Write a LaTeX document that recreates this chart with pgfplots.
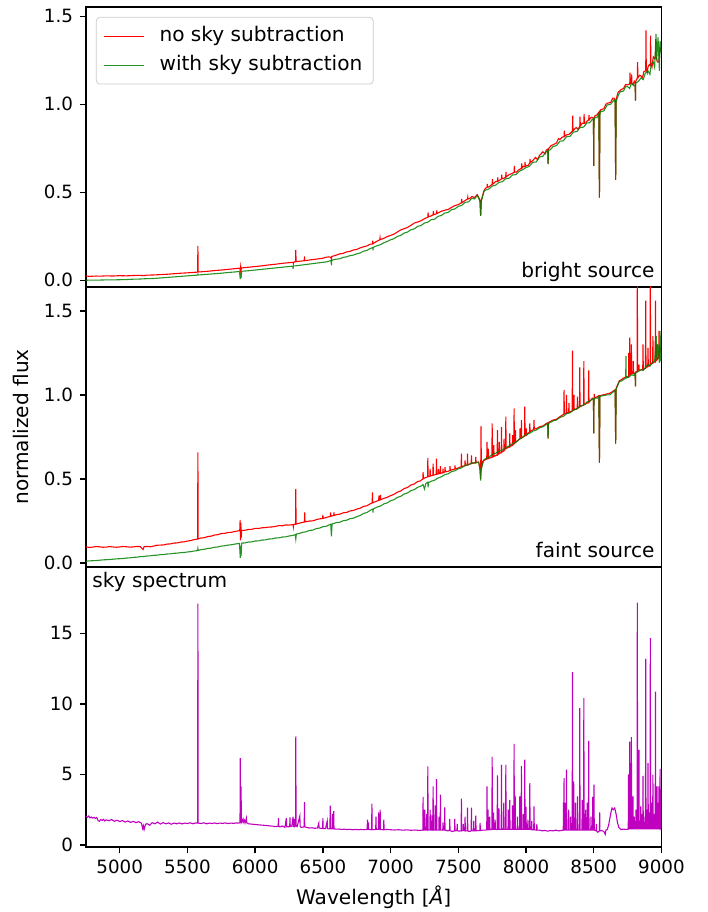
\documentclass[border=0pt]{standalone}
\usepackage{fontspec}
\setmainfont{DejaVu Sans}
\usepackage{pgfplots}
\pgfplotsset{compat=1.18}
\usepgfplotslibrary{groupplots}
\definecolor{mplred}{rgb}{1,0,0}
\definecolor{mplgreen}{rgb}{0,0.5,0}
\definecolor{mplmag}{rgb}{0.75,0,0.75}
\begin{document}
\begin{tikzpicture}
\begin{groupplot}[
  group style={group size=1 by 3, vertical sep=0pt},
  width=314.9pt, height=153.2pt, scale only axis,
  xmin=4750, xmax=9000,
  axis line style={line width=0.8pt},
  tick align=outside, major tick length=3.5pt,
  tick style={line width=0.8pt, black},
  ytick pos=left, xtick pos=bottom,
  scaled ticks=false,
  /pgf/number format/assume math mode=true,
  /pgf/number format/1000 sep={},
  tick label style={font=\fontsize{10}{12}\selectfont},
  label style={font=\fontsize{11}{13}\selectfont},
  every axis plot/.append style={line width=0.6pt, no marks},
  legend image code/.code={\draw[#1] (0pt,0pt) -- (22pt,0pt); \path (28pt,0pt);},
]
\nextgroupplot[
  ymin=-0.038, ymax=1.553, ytick={0,0.5,1,1.5}, xtick=\empty,
  yticklabel style={/pgf/number format/.cd, fixed, fixed zerofill, precision=1},
  legend cell align=left,
  legend style={at={(0,1)}, anchor=north west, xshift=5.5pt, yshift=-5.5pt,
    draw=black!20, fill=white, fill opacity=0.8, text opacity=1, rounded corners=2pt,
    font=\fontsize{11}{13}\selectfont, inner xsep=4pt, inner ysep=3.5pt,
    nodes={inner sep=2pt, text height=7.5pt, text depth=2pt}, row sep=2.5pt},
]
\addplot[draw=mplred] coordinates {(4750,.024) (4775,.022) (4800,.023) (4825,.024) (4850,.023) (4900,.025) (4950,.024) (5000,.026) (5050,.025) (5100,.027) (5150,.028) (5175,.026) (5200,.029) (5250,.030) (5300,.032) (5350,.034) (5400,.037) (5450,.040) (5500,.042) (5550,.045) (5575,.046) (5577,.195) (5579,.047) (5600,.048) (5650,.051) (5700,.055) (5750,.058) (5800,.062) (5850,.066) (5886,.069) (5890,.055) (5893,.078) (5896,.060) (5900,.070) (5950,.074) (6000,.078) (6050,.082) (6100,.087) (6150,.091) (6200,.096) (6250,.100) (6280,.102) (6282,.095) (6284,.103) (6298,.105) (6300,.172) (6302,.106) (6350,.110) (6362,.111) (6364,.135) (6366,.111) (6400,.115) (6450,.120) (6500,.125) (6525,.131) (6550,.133) (6560,.128) (6563,.120) (6566,.135) (6600,.143) (6625,.150) (6650,.153) (6675,.161) (6700,.164) (6725,.172) (6750,.175) (6775,.184) (6800,.190) (6825,.195) (6850,.205) (6866,.206) (6868,.225) (6870,.208) (6900,.222) (6920,.230) (6922,.242) (6924,.231) (6950,.238) (6975,.248) (7000,.255) (7025,.262) (7050,.274) (7075,.286) (7100,.293) (7125,.300) (7150,.312) (7175,.325) (7200,.331) (7225,.338) (7250,.350) (7275,.358) (7277,.385) (7279,.360) (7300,.366) (7314,.372) (7316,.392) (7318,.372) (7339,.378) (7341,.397) (7343,.379) (7350,.382) (7375,.392) (7400,.398) (7425,.402) (7450,.414) (7475,.424) (7500,.430) (7523,.440) (7525,.462) (7527,.441) (7550,.453) (7568,.462) (7570,.472) (7572,.462) (7587,.466) (7600,.476) (7620,.470) (7640,.486) (7660,.455) (7665,.366) (7670,.455) (7690,.510) (7700,.522) (7712,.528) (7714,.548) (7716,.529) (7725,.530) (7750,.545) (7752,.575) (7754,.546) (7775,.560) (7789,.562) (7791,.585) (7793,.563) (7800,.566) (7819,.576) (7821,.600) (7823,.577) (7835,.578) (7850,.587) (7852,.615) (7854,.588) (7875,.600) (7900,.608) (7912,.613) (7914,.650) (7916,.614) (7930,.615) (7950,.629) (7966,.636) (7968,.664) (7970,.637) (7980,.648) (7991,.645) (7993,.672) (7995,.646) (8000,.650) (8015,.652) (8028,.667) (8030,.690) (8032,.668) (8050,.680) (8070,.698) (8085,.685) (8100,.710) (8125,.730) (8140,.718) (8150,.740) (8160,.745) (8163,.660) (8166,.747) (8185,.765) (8200,.770) (8225,.780) (8240,.805) (8250,.800) (8265,.812) (8281,.816) (8283,.850) (8285,.817) (8300,.826) (8320,.830) (8343,.848) (8345,.935) (8347,.849) (8370,.868) (8385,.858) (8397,.876) (8399,.930) (8401,.877) (8415,.892) (8427,.891) (8429,.945) (8431,.892) (8440,.893) (8450,.904) (8463,.911) (8465,.940) (8467,.912) (8480,.925) (8490,.925) (8498,.920) (8500,.650) (8502,.920) (8510,.935) (8525,.940) (8538,.955) (8542,.470) (8546,.955) (8550,.968) (8575,.975) (8590,1.000) (8600,1.006) (8625,1.010) (8640,1.035) (8650,1.035) (8658,1.020) (8662,.570) (8666,1.030) (8680,1.068) (8690,1.075) (8700,1.082) (8720,1.090) (8735,1.112) (8750,1.110) (8766,1.115) (8768,1.180) (8770,1.116) (8778,1.120) (8780,1.170) (8782,1.121) (8790,1.112) (8800,1.130) (8806,1.120) (8808,1.020) (8810,1.130) (8822,1.150) (8824,1.240) (8826,1.150) (8840,1.165) (8850,1.160) (8860,1.150) (8870,1.185) (8884,1.190) (8886,1.420) (8888,1.200) (8895,1.180) (8900,1.210) (8910,1.225) (8918,1.220) (8920,1.390) (8922,1.230) (8930,1.210) (8940,1.270) (8950,1.260) (8956,1.270) (8958,1.370) (8960,1.270) (8970,1.240) (8980,1.240) (8990,1.320) (9000,1.300)};
\addlegendentry{no sky subtraction}
\addplot[draw=mplgreen, draw opacity=0.85] coordinates {(4750,.000) (4800,.001) (4850,.001) (4900,.002) (4950,.002) (5000,.003) (5050,.004) (5100,.006) (5150,.007) (5200,.009) (5250,.010) (5300,.013) (5350,.016) (5400,.019) (5450,.022) (5500,.025) (5550,.028) (5575,.029) (5577,.034) (5579,.030) (5600,.031) (5650,.034) (5700,.037) (5750,.040) (5800,.044) (5850,.047) (5884,.050) (5890,.006) (5893,.040) (5896,.012) (5900,.051) (5950,.054) (6000,.058) (6050,.062) (6100,.066) (6150,.070) (6200,.074) (6250,.078) (6278,.080) (6280,.065) (6282,.081) (6300,.082) (6350,.087) (6400,.092) (6450,.097) (6500,.102) (6525,.104) (6550,.110) (6560,.112) (6563,.085) (6566,.114) (6600,.120) (6625,.122) (6650,.130) (6675,.133) (6700,.140) (6725,.143) (6750,.150) (6775,.155) (6800,.165) (6825,.170) (6850,.180) (6868,.186) (6870,.170) (6872,.187) (6900,.196) (6925,.202) (6950,.213) (6975,.220) (7000,.230) (7025,.236) (7050,.249) (7075,.255) (7100,.268) (7125,.274) (7150,.287) (7175,.292) (7200,.306) (7225,.311) (7250,.325) (7275,.330) (7300,.344) (7325,.347) (7350,.363) (7375,.368) (7400,.382) (7425,.385) (7450,.401) (7475,.405) (7500,.420) (7525,.425) (7550,.443) (7575,.445) (7600,.466) (7620,.462) (7640,.482) (7660,.450) (7665,.366) (7670,.450) (7690,.505) (7700,.512) (7725,.518) (7750,.535) (7775,.540) (7800,.556) (7825,.560) (7850,.577) (7875,.580) (7900,.598) (7925,.600) (7950,.619) (7975,.628) (8000,.640) (8025,.648) (8050,.670) (8075,.672) (8100,.700) (8125,.705) (8150,.730) (8160,.736) (8163,.660) (8166,.738) (8180,.742) (8200,.760) (8225,.765) (8250,.790) (8275,.792) (8300,.816) (8325,.818) (8350,.842) (8375,.845) (8400,.868) (8425,.870) (8450,.894) (8470,.895) (8490,.915) (8498,.910) (8500,.650) (8502,.910) (8510,.925) (8525,.925) (8538,.945) (8542,.470) (8546,.945) (8550,.958) (8575,.962) (8600,.996) (8625,1.000) (8650,1.025) (8658,1.010) (8662,.570) (8666,1.020) (8690,1.065) (8700,1.072) (8720,1.075) (8735,1.100) (8750,1.100) (8765,1.090) (8780,1.120) (8795,1.105) (8806,1.110) (8808,1.020) (8810,1.120) (8830,1.130) (8850,1.150) (8865,1.140) (8880,1.175) (8900,1.190) (8915,1.170) (8925,1.230) (8940,1.240) (8950,1.210) (8960,1.400) (8965,1.250) (8975,1.380) (8985,1.190) (8990,1.360) (9000,1.290)};
\addlegendentry{with sky subtraction}
\node[anchor=base east, inner sep=0pt, font=\fontsize{11}{13}\selectfont] at (rel axis cs:1,0) [xshift=-3.6pt, yshift=5pt] {bright source};

\nextgroupplot[
  ymin=-0.024, ymax=1.642, ytick={0,0.5,1,1.5}, xtick=\empty,
  yticklabel style={/pgf/number format/.cd, fixed, fixed zerofill, precision=1},
  ylabel={normalized flux},
  ylabel style={at={(rel axis cs:0,0.5)}, anchor=center, yshift=35.5pt},
]
\addplot[draw=mplred] coordinates {(4750,.095) (4775,.092) (4800,.094) (4825,.097) (4850,.096) (4875,.093) (4900,.094) (4925,.097) (4950,.095) (4975,.093) (5000,.095) (5025,.098) (5050,.096) (5075,.094) (5100,.095) (5125,.098) (5150,.097) (5173,.080) (5180,.097) (5200,.098) (5225,.096) (5250,.100) (5275,.105) (5300,.106) (5325,.107) (5350,.112) (5375,.113) (5400,.118) (5425,.119) (5450,.124) (5475,.125) (5500,.130) (5525,.133) (5550,.139) (5575,.142) (5577,.657) (5579,.143) (5600,.148) (5625,.150) (5650,.157) (5675,.159) (5700,.166) (5725,.168) (5750,.175) (5775,.176) (5800,.181) (5825,.182) (5850,.187) (5886,.192) (5889,.256) (5891,.134) (5894,.240) (5897,.150) (5900,.193) (5925,.194) (5950,.199) (5975,.200) (6000,.205) (6025,.205) (6050,.209) (6075,.210) (6100,.213) (6125,.214) (6150,.217) (6175,.222) (6200,.221) (6225,.226) (6250,.225) (6280,.228) (6282,.215) (6284,.229) (6298,.230) (6300,.440) (6302,.231) (6325,.236) (6350,.241) (6364,.243) (6366,.300) (6368,.244) (6400,.249) (6425,.250) (6450,.257) (6475,.262) (6498,.264) (6500,.285) (6502,.265) (6525,.270) (6550,.276) (6555,.277) (6557,.300) (6559,.278) (6580,.282) (6582,.300) (6584,.283) (6600,.287) (6625,.290) (6650,.298) (6675,.300) (6700,.309) (6725,.312) (6750,.320) (6775,.325) (6800,.336) (6825,.340) (6850,.352) (6864,.357) (6866,.420) (6868,.358) (6900,.368) (6912,.372) (6914,.400) (6916,.373) (6923,.375) (6925,.405) (6927,.376) (6950,.384) (6975,.390) (7000,.400) (7025,.408) (7050,.421) (7075,.428) (7100,.442) (7125,.449) (7150,.463) (7175,.470) (7200,.484) (7220,.488) (7238,.500) (7240,.540) (7242,.501) (7250,.505) (7273,.512) (7275,.625) (7277,.513) (7290,.516) (7292,.560) (7294,.517) (7312,.521) (7314,.590) (7316,.522) (7337,.526) (7339,.620) (7341,.527) (7352,.530) (7354,.560) (7356,.530) (7366,.532) (7368,.575) (7370,.533) (7385,.536) (7387,.560) (7389,.537) (7400,.541) (7402,.570) (7404,.542) (7425,.545) (7437,.550) (7439,.575) (7441,.550) (7450,.553) (7474,.558) (7476,.580) (7478,.559) (7500,.565) (7521,.572) (7523,.650) (7525,.573) (7548,.578) (7550,.610) (7552,.579) (7566,.582) (7568,.650) (7570,.583) (7595,.590) (7597,.640) (7599,.591) (7627,.598) (7629,.630) (7631,.599) (7650,.600) (7660,.560) (7665,.500) (7668,.815) (7670,.560) (7680,.605) (7695,.612) (7710,.618) (7712,.720) (7714,.619) (7720,.620) (7722,.680) (7724,.621) (7735,.625) (7748,.628) (7750,.830) (7752,.630) (7760,.632) (7762,.700) (7764,.634) (7787,.642) (7789,.790) (7791,.643) (7800,.650) (7802,.720) (7804,.651) (7817,.657) (7819,.810) (7821,.658) (7836,.668) (7838,.740) (7840,.670) (7849,.680) (7851,.870) (7853,.681) (7878,.690) (7880,.770) (7882,.691) (7900,.702) (7902,.760) (7904,.703) (7910,.710) (7912,.920) (7914,.711) (7920,.716) (7922,.790) (7924,.717) (7935,.725) (7950,.735) (7954,.738) (7956,.800) (7958,.739) (7964,.742) (7966,.850) (7968,.743) (7989,.755) (7991,.930) (7993,.756) (8000,.760) (8002,.800) (8004,.761) (8026,.780) (8028,.830) (8030,.781) (8057,.795) (8059,.850) (8061,.796) (8080,.800) (8100,.810) (8125,.815) (8150,.830) (8160,.833) (8163,.740) (8166,.836) (8200,.850) (8225,.855) (8250,.870) (8279,.885) (8281,1.030) (8283,.886) (8297,.890) (8299,1.000) (8301,.891) (8315,.895) (8317,.950) (8319,.896) (8341,.905) (8343,1.263) (8345,.906) (8352,.910) (8354,1.000) (8356,.911) (8378,.920) (8380,.990) (8382,.921) (8395,.928) (8397,1.164) (8399,.929) (8425,.940) (8427,1.200) (8429,.941) (8461,.955) (8463,1.145) (8465,.956) (8490,.980) (8498,.975) (8500,.770) (8502,.975) (8504,1.006) (8506,.980) (8538,.995) (8542,.596) (8546,.995) (8570,1.000) (8600,1.006) (8620,1.010) (8640,1.020) (8658,1.030) (8662,.710) (8666,1.040) (8690,1.085) (8705,1.090) (8720,1.100) (8740,1.105) (8757,1.110) (8759,1.250) (8761,1.115) (8764,1.120) (8766,1.340) (8768,1.120) (8776,1.125) (8778,1.300) (8780,1.126) (8790,1.128) (8792,1.200) (8794,1.128) (8806,1.130) (8808,1.050) (8810,1.135) (8820,1.140) (8822,1.700) (8824,1.140) (8832,1.145) (8834,1.180) (8836,1.146) (8850,1.148) (8862,1.150) (8864,1.300) (8866,1.150) (8882,1.160) (8884,1.560) (8886,1.160) (8899,1.170) (8901,1.280) (8903,1.170) (8916,1.180) (8918,1.700) (8920,1.180) (8935,1.190) (8937,1.350) (8939,1.190) (8954,1.200) (8956,1.560) (8958,1.200) (8965,1.210) (8967,1.300) (8969,1.210) (8980,1.220) (8982,1.380) (8984,1.220) (8990,1.280) (9000,1.250)};
\addplot[draw=mplgreen, draw opacity=0.85] coordinates {(4750,.010) (4775,.012) (4800,.013) (4825,.014) (4850,.016) (4875,.018) (4900,.019) (4925,.020) (4950,.022) (4975,.024) (5000,.025) (5025,.026) (5050,.029) (5075,.030) (5100,.033) (5125,.034) (5150,.037) (5175,.038) (5200,.041) (5225,.042) (5250,.045) (5275,.046) (5300,.049) (5325,.050) (5350,.053) (5375,.054) (5400,.057) (5425,.058) (5450,.061) (5475,.062) (5500,.065) (5525,.067) (5550,.071) (5575,.073) (5577,.085) (5579,.074) (5600,.079) (5625,.081) (5650,.086) (5675,.088) (5700,.093) (5725,.095) (5750,.100) (5775,.102) (5800,.106) (5825,.108) (5850,.112) (5884,.116) (5890,.030) (5893,.100) (5896,.040) (5900,.118) (5925,.119) (5950,.124) (5975,.125) (6000,.130) (6025,.131) (6050,.136) (6075,.137) (6100,.142) (6125,.143) (6150,.148) (6175,.149) (6200,.154) (6225,.155) (6250,.160) (6275,.163) (6296,.168) (6300,.142) (6304,.172) (6325,.175) (6350,.182) (6375,.185) (6400,.193) (6425,.195) (6450,.204) (6475,.207) (6500,.215) (6525,.218) (6550,.228) (6558,.230) (6563,.158) (6568,.232) (6575,.233) (6600,.240) (6625,.242) (6650,.251) (6675,.254) (6700,.263) (6725,.266) (6750,.275) (6775,.282) (6800,.294) (6825,.300) (6850,.313) (6868,.320) (6870,.300) (6872,.321) (6900,.332) (6925,.338) (6950,.351) (6975,.357) (7000,.370) (7025,.376) (7050,.390) (7075,.396) (7100,.410) (7125,.416) (7150,.430) (7175,.436) (7200,.450) (7220,.455) (7240,.466) (7250,.440) (7260,.472) (7275,.480) (7277,.450) (7280,.478) (7300,.486) (7325,.492) (7350,.505) (7375,.512) (7400,.525) (7425,.530) (7450,.543) (7475,.548) (7500,.560) (7525,.566) (7550,.580) (7575,.584) (7600,.596) (7625,.593) (7650,.600) (7660,.560) (7665,.490) (7670,.560) (7690,.615) (7700,.620) (7725,.628) (7750,.645) (7775,.652) (7800,.665) (7825,.672) (7850,.687) (7875,.695) (7900,.710) (7925,.718) (7950,.736) (7975,.748) (8000,.765) (8025,.770) (8050,.784) (8075,.790) (8100,.804) (8125,.810) (8150,.824) (8160,.828) (8163,.740) (8166,.830) (8180,.836) (8200,.845) (8225,.850) (8250,.865) (8275,.872) (8300,.888) (8325,.893) (8350,.910) (8375,.915) (8400,.933) (8425,.938) (8450,.957) (8470,.962) (8490,.975) (8498,.970) (8500,.770) (8502,.970) (8510,.982) (8525,.980) (8538,.990) (8542,.596) (8546,.992) (8570,.995) (8600,1.000) (8620,1.000) (8640,1.015) (8658,1.025) (8662,.710) (8666,1.035) (8690,1.080) (8705,1.082) (8720,1.090) (8736,1.100) (8738,1.230) (8740,1.100) (8760,1.105) (8780,1.120) (8795,1.115) (8806,1.130) (8808,1.050) (8810,1.130) (8830,1.140) (8850,1.150) (8865,1.145) (8880,1.160) (8900,1.180) (8915,1.170) (8930,1.190) (8950,1.200) (8962,1.350) (8966,1.210) (8975,1.300) (8985,1.190) (8990,1.380) (8995,1.220) (9000,1.240)};
\node[anchor=base east, inner sep=0pt, font=\fontsize{11}{13}\selectfont] at (rel axis cs:1,0) [xshift=-3.6pt, yshift=5pt] {faint source};

\nextgroupplot[
  ymin=-0.14, ymax=19.7, ytick={0,5,10,15},
  xtick={5000,5500,...,9000},
  xlabel={Wavelength [{\itshape Å}]},
  xlabel style={at={(rel axis cs:0.5,0)}, anchor=base, yshift=-31.7pt},
]
\addplot[draw=mplmag] coordinates {(4750,2.02) (4760,1.95) (4770,2.05) (4780,1.92) (4790,1.98) (4800,1.90) (4810,1.96) (4820,1.88) (4830,1.95) (4840,1.72) (4850,1.68) (4860,1.80) (4870,1.74) (4880,1.82) (4890,1.70) (4900,1.78) (4920,1.72) (4940,1.80) (4960,1.68) (4980,1.75) (5000,1.66) (5020,1.73) (5040,1.62) (5060,1.70) (5080,1.60) (5100,1.67) (5120,1.58) (5140,1.65) (5160,1.55) (5170,1.15) (5175,1.35) (5180,1.10) (5190,1.45) (5200,1.52) (5220,1.40) (5240,1.58) (5260,1.50) (5280,1.62) (5300,1.48) (5320,1.58) (5340,1.50) (5360,1.56) (5380,1.47) (5400,1.55) (5420,1.50) (5440,1.56) (5460,1.49) (5480,1.55) (5500,1.52) (5520,1.57) (5540,1.50) (5560,1.56) (5575,1.55) (5577,17.10) (5579,1.55) (5600,1.52) (5620,1.57) (5640,1.50) (5660,1.55) (5680,1.52) (5700,1.56) (5720,1.51) (5740,1.55) (5760,1.53) (5780,1.56) (5800,1.52) (5820,1.55) (5840,1.53) (5860,1.56) (5880,1.55) (5888,1.58) (5890,6.15) (5892,1.70) (5896,4.15) (5898,1.60) (5910,1.85) (5912,1.60) (5920,1.75) (5925,1.55) (5935,1.90) (5937,1.58) (5950,1.50) (5970,1.48) (6000,1.45) (6030,1.42) (6060,1.40) (6100,1.36) (6130,1.33) (6150,1.30) (6170,1.32) (6172,1.90) (6174,1.30) (6190,1.28) (6200,1.35) (6220,1.25) (6230,1.90) (6232,1.28) (6255,1.30) (6257,1.95) (6259,1.30) (6270,1.32) (6280,2.00) (6282,1.30) (6287,1.30) (6289,1.85) (6291,1.30) (6298,1.35) (6300,7.69) (6302,1.35) (6310,1.30) (6330,2.05) (6332,1.30) (6340,1.25) (6362,1.28) (6364,3.04) (6366,1.28) (6380,1.25) (6400,1.20) (6420,1.22) (6440,1.18) (6460,1.20) (6470,1.55) (6472,1.20) (6498,1.17) (6500,1.90) (6502,1.17) (6520,1.16) (6532,1.70) (6534,1.16) (6540,1.14) (6552,1.15) (6554,2.78) (6556,1.15) (6568,1.15) (6570,2.20) (6572,1.14) (6578,1.14) (6580,2.40) (6582,1.14) (6600,1.12) (6620,1.13) (6640,1.10) (6660,1.12) (6680,1.09) (6700,1.11) (6720,1.08) (6740,1.10) (6760,1.08) (6780,1.10) (6800,1.08) (6827,1.10) (6829,1.80) (6831,1.10) (6834,1.10) (6836,1.60) (6838,1.10) (6860,1.08) (6862,2.92) (6864,1.10) (6870,1.08) (6890,1.10) (6892,2.00) (6894,1.10) (6910,1.10) (6912,2.30) (6914,1.10) (6921,1.10) (6923,2.50) (6925,1.10) (6940,1.08) (6948,1.08) (6950,1.80) (6952,1.08) (6970,1.10) (7000,1.08) (7030,1.06) (7060,1.08) (7090,1.05) (7120,1.07) (7150,1.04) (7180,1.06) (7210,1.03) (7230,1.05) (7238,1.05) (7240,3.40) (7242,1.05) (7250,1.08) (7252,2.50) (7254,1.05) (7264,1.05) (7266,2.20) (7268,1.05) (7273,1.05) (7275,5.56) (7277,1.05) (7290,1.08) (7292,2.50) (7294,1.05) (7303,1.05) (7305,2.10) (7307,1.05) (7312,1.05) (7314,4.15) (7316,1.05) (7327,1.08) (7329,2.80) (7331,1.05) (7337,1.05) (7339,4.67) (7341,1.05) (7356,1.05) (7358,2.00) (7360,1.05) (7366,1.05) (7368,3.56) (7370,1.05) (7385,1.05) (7387,1.60) (7389,1.05) (7398,1.05) (7400,2.66) (7402,1.05) (7420,1.00) (7435,1.02) (7437,1.84) (7439,1.02) (7455,0.95) (7472,1.00) (7474,1.84) (7476,1.00) (7490,1.02) (7492,1.50) (7494,1.02) (7500,0.98) (7521,1.00) (7523,3.28) (7525,1.00) (7535,1.02) (7537,1.50) (7539,1.02) (7548,1.00) (7550,2.00) (7552,1.00) (7566,1.00) (7568,2.64) (7570,1.00) (7580,0.95) (7595,1.00) (7597,2.64) (7599,1.00) (7612,1.00) (7614,1.70) (7616,1.00) (7627,1.00) (7629,2.07) (7631,1.00) (7645,1.02) (7659,1.02) (7661,1.56) (7663,1.02) (7680,1.05) (7700,1.05) (7710,1.08) (7712,4.15) (7714,1.08) (7718,1.08) (7720,2.50) (7722,1.08) (7730,1.10) (7732,2.00) (7734,1.08) (7748,1.10) (7750,6.25) (7752,1.10) (7758,1.10) (7760,2.30) (7762,1.10) (7770,1.10) (7772,1.80) (7774,1.10) (7787,1.10) (7789,4.93) (7791,1.10) (7798,1.12) (7800,2.60) (7802,1.10) (7817,1.10) (7819,5.68) (7821,1.10) (7834,1.12) (7836,3.00) (7838,1.10) (7849,1.10) (7851,5.68) (7853,1.10) (7867,1.10) (7869,2.50) (7871,1.10) (7878,1.12) (7880,3.20) (7882,1.10) (7898,1.10) (7900,2.80) (7902,1.10) (7910,1.10) (7912,7.17) (7914,1.10) (7918,1.12) (7920,3.50) (7922,1.10) (7935,1.10) (7937,2.00) (7939,1.10) (7952,1.10) (7954,3.44) (7956,1.10) (7964,1.10) (7966,5.61) (7968,1.10) (7978,1.10) (7980,2.20) (7982,1.10) (7989,1.10) (7991,6.04) (7993,1.10) (7998,1.10) (8000,2.70) (8002,1.10) (8012,1.10) (8014,1.80) (8016,1.10) (8026,1.10) (8028,4.39) (8030,1.10) (8040,1.08) (8042,1.70) (8044,1.08) (8057,1.08) (8059,2.73) (8061,1.08) (8078,1.05) (8080,1.50) (8082,1.05) (8100,1.05) (8120,1.00) (8140,1.03) (8160,0.98) (8180,1.02) (8200,1.00) (8220,1.05) (8240,1.00) (8260,1.02) (8275,1.05) (8277,3.00) (8279,1.05) (8281,4.74) (8283,1.05) (8288,1.05) (8290,3.00) (8292,1.05) (8297,1.05) (8299,5.33) (8301,1.05) (8313,1.05) (8315,2.50) (8317,1.05) (8327,1.05) (8329,2.00) (8331,1.05) (8341,1.05) (8343,12.24) (8345,1.05) (8350,1.05) (8352,4.50) (8354,1.05) (8363,1.05) (8365,3.00) (8367,1.05) (8378,1.05) (8380,3.44) (8382,1.05) (8395,1.05) (8397,9.69) (8399,1.05) (8413,1.05) (8415,3.20) (8417,1.05) (8425,1.05) (8427,10.40) (8429,1.05) (8438,1.05) (8440,2.50) (8442,1.05) (8450,1.05) (8452,3.00) (8454,1.05) (8461,1.05) (8463,7.38) (8465,1.05) (8478,1.05) (8480,2.00) (8482,1.05) (8491,1.05) (8493,3.40) (8495,1.05) (8500,1.05) (8502,4.27) (8504,1.05) (8518,1.00) (8520,1.50) (8522,1.00) (8530,0.90) (8542,1.00) (8544,2.31) (8546,1.00) (8560,1.02) (8575,0.95) (8585,0.75) (8590,1.05) (8600,1.10) (8610,1.40) (8625,2.20) (8635,2.62) (8645,2.50) (8655,2.62) (8665,2.20) (8675,1.60) (8685,1.25) (8700,1.10) (8720,1.12) (8740,1.10) (8755,1.12) (8757,5.00) (8759,1.15) (8764,1.15) (8766,7.33) (8768,1.15) (8776,1.15) (8778,7.64) (8780,1.15) (8788,1.15) (8790,3.44) (8792,1.15) (8798,1.15) (8800,2.00) (8802,1.15) (8810,1.15) (8812,2.50) (8814,1.15) (8820,1.15) (8822,17.17) (8824,1.15) (8832,1.15) (8834,6.74) (8836,1.15) (8845,1.15) (8847,2.73) (8849,1.15) (8855,1.15) (8857,2.20) (8859,1.15) (8862,1.15) (8864,4.90) (8866,1.15) (8868,1.15) (8870,2.00) (8872,1.15) (8882,1.15) (8884,13.18) (8886,1.15) (8892,1.15) (8894,2.50) (8896,1.15) (8899,1.15) (8901,5.80) (8903,1.15) (8908,1.15) (8910,2.30) (8912,1.15) (8916,1.15) (8918,14.65) (8920,1.15) (8923,1.15) (8925,3.00) (8927,1.15) (8935,1.15) (8937,4.98) (8939,1.15) (8945,1.15) (8947,2.20) (8949,1.15) (8954,1.15) (8956,10.87) (8958,1.15) (8965,1.15) (8967,4.15) (8969,1.15) (8974,1.15) (8976,3.00) (8978,1.15) (8980,1.15) (8982,4.15) (8984,1.15) (8988,1.15) (8990,5.40) (8992,1.15) (8995,1.20) (8997,4.00) (9000,1.20)};
\node[anchor=base west, inner sep=0pt, font=\fontsize{11}{13}\selectfont] at (rel axis cs:0,1) [xshift=3.4pt, yshift=-11.5pt] {sky spectrum};
\end{groupplot}
\pgfresetboundingbox
\useasboundingbox ([xshift=-47pt, yshift=3.8pt]group c1r1.north west) rectangle ([xshift=25.3pt, yshift=-35.6pt]group c1r3.south east);
\end{tikzpicture}
\end{document}
